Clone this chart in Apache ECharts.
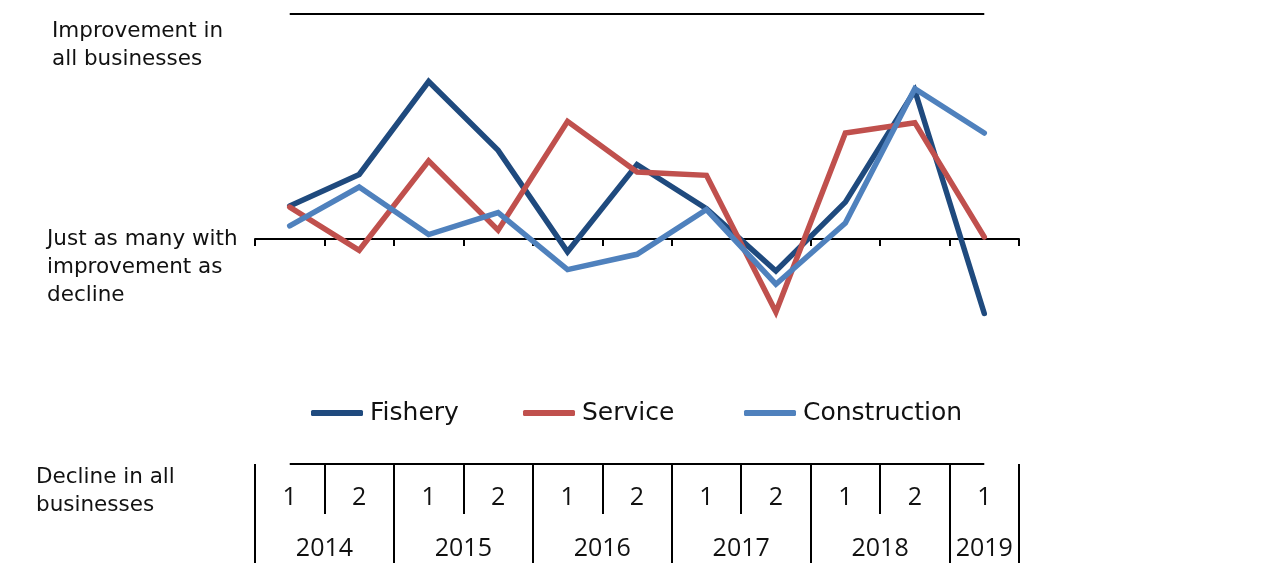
<!DOCTYPE html>
<html><head><meta charset="utf-8">
<script src="https://cdn.jsdelivr.net/npm/echarts@6/dist/echarts.min.js"></script>
<style>html,body{margin:0;padding:0;background:#fff}#c{width:1288px;height:563px}</style>
</head><body><div id="c"></div>
<script>
// ---- data ----
const periods = ['2014-1','2014-2','2015-1','2015-2','2016-1','2016-2','2017-1','2017-2','2018-1','2018-2','2019-1'];
const halfLabels = ['1','2','1','2','1','2','1','2','1','2','1'];
const periodYears = ['2014','2014','2015','2015','2016','2016','2017','2017','2018','2018','2019'];
const fishery = [0.147, 0.287, 0.700, 0.394, -0.057, 0.331, 0.135, -0.142, 0.164, 0.660, -0.331];
const service = [0.142, -0.050, 0.347, 0.039, 0.523, 0.298, 0.283, -0.324, 0.471, 0.517, 0.009];
const construction = [0.058, 0.231, 0.020, 0.117, -0.136, -0.068, 0.131, -0.201, 0.071, 0.668, 0.471];
const scaleMax = 1, scaleMin = -1;
const seriesNames = ['Fishery', 'Service', 'Construction'];
const annTop = 'Improvement in\nall businesses';
const annMid = 'Just as many with\nimprovement as\ndecline';
const annBottom = 'Decline in all\nbusinesses';

// ---- derived year groups ----
const yearBounds = [0];
for (let i = 1; i < periodYears.length; i++) if (periodYears[i] !== periodYears[i-1]) yearBounds.push(i);
yearBounds.push(periodYears.length);
const yearCenters = [], yearNames = [];
for (let i = 0; i < yearBounds.length - 1; i++) {
  yearCenters.push((yearBounds[i] + yearBounds[i+1]) / 2);
  yearNames.push(periodYears[yearBounds[i]]);
}

const FONT = '"DejaVu Sans", sans-serif';
const NUMFONT = '"Open Sans", sans-serif';
const colors = ['#1F4A7E', '#C0504D', '#4F81BD'];
const gridRect = {left: 255, right: 269, top: 14, bottom: 99};
const blk = '#000';

const chart = echarts.init(document.getElementById('c'), null, {renderer: 'canvas'});
const mkSeries = (name, data, idx) => ({
  name, type: 'line', data, xAxisIndex: 0, yAxisIndex: 0,
  showSymbol: false, symbol: 'none', clip: false, z: 3 + idx,
  lineStyle: {width: 5.5, color: colors[idx], join: 'miter', cap: 'round'},
  itemStyle: {color: colors[idx]},
  emphasis: {disabled: true}
});
const s0 = mkSeries(seriesNames[0], fishery, 0);
s0.markLine = {
  silent: true, symbol: 'none', label: {show: false},
  lineStyle: {color: blk, width: 2, type: 'solid'},
  emphasis: {disabled: true},
  data: [
    [{coord: [0, scaleMax]}, {coord: [periods.length - 1, scaleMax]}],
    [{coord: [0, scaleMin]}, {coord: [periods.length - 1, scaleMin]}]
  ]
};
const legendBase = {
  orient: 'horizontal', top: 398, padding: 0, icon: 'roundRect',
  itemWidth: 52, itemHeight: 6, selectedMode: false,
  textStyle: {fontFamily: FONT, fontSize: 25, color: '#111', lineHeight: 30, padding: [0,0,0,2]}
};
chart.setOption({
  animation: false,
  backgroundColor: '#fff',
  color: colors,
  grid: [Object.assign({}, gridRect), Object.assign({}, gridRect), Object.assign({}, gridRect)],
  legend: [
    Object.assign({}, legendBase, {left: 311, data: [seriesNames[0]]}),
    Object.assign({}, legendBase, {left: 523, data: [seriesNames[1]]}),
    Object.assign({}, legendBase, {left: 744, data: [seriesNames[2]]})
  ],
  xAxis: [
    {gridIndex: 0, type: 'category', data: periods, boundaryGap: true,
     axisLine: {onZero: true, lineStyle: {color: blk, width: 2}},
     axisTick: {show: true, interval: 0, length: 7, lineStyle: {color: blk, width: 2}},
     axisLabel: {show: false}, splitLine: {show: false}},
    {gridIndex: 1, type: 'category', data: halfLabels, boundaryGap: true, position: 'bottom',
     axisLine: {show: false, onZero: false},
     axisTick: {show: true, interval: 0, length: 50, lineStyle: {color: blk, width: 2}},
     axisLabel: {show: true, interval: 0, margin: 21, fontFamily: NUMFONT, fontSize: 25, color: '#111'},
     splitLine: {show: false}},
    {gridIndex: 2, type: 'value', min: 0, max: periods.length, position: 'bottom',
     axisLine: {show: false, onZero: false},
     axisTick: {show: true, customValues: yearBounds, length: 99, lineStyle: {color: blk, width: 2}},
     axisLabel: {show: true, customValues: yearCenters, margin: 72, fontFamily: NUMFONT, fontSize: 25, color: '#111',
       formatter: v => { const k = yearCenters.indexOf(v); return k >= 0 ? yearNames[k] : ''; }},
     splitLine: {show: false}}
  ],
  yAxis: [0,1,2].map(g => ({gridIndex: g, type: 'value', min: scaleMin, max: scaleMax, show: false, splitLine: {show: false}})),
  series: [s0, mkSeries(seriesNames[1], service, 1), mkSeries(seriesNames[2], construction, 2)],
  graphic: [
    {type: 'text', left: 52, top: 17, style: {text: annTop, fontFamily: FONT, fontSize: 21.5, lineHeight: 28, fill: '#111'}},
    {type: 'text', left: 47, top: 225, style: {text: annMid, fontFamily: FONT, fontSize: 21.5, lineHeight: 28, fill: '#111'}},
    {type: 'text', left: 36, top: 463, style: {text: annBottom, fontFamily: FONT, fontSize: 21.5, lineHeight: 28, fill: '#111'}}
  ]
});
</script></body></html>
